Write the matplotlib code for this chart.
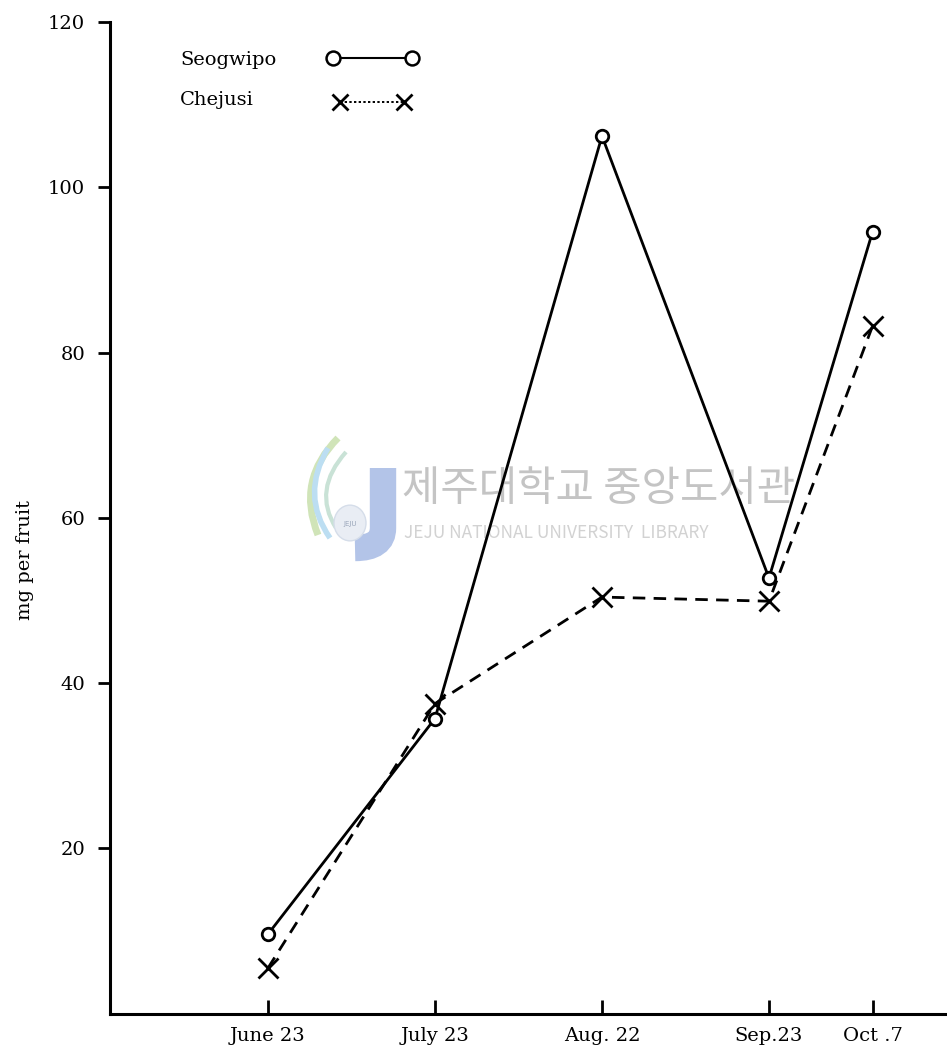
import matplotlib
matplotlib.use("Agg")
import matplotlib.pyplot as plt
from matplotlib.lines import Line2D
from matplotlib.path import Path
from matplotlib.patches import PathPatch, Circle

# Sampling dates and their positions along the time axis
dates = ["June 23", "July 23", "Aug. 22", "Sep.23", "Oct .7"]
date_pos = [0, 1, 2, 3, 3.62]

# mg per fruit at each sampling date
seogwipo = [9.6, 35.7, 106.2, 52.7, 94.6]
chejusi = [5.5, 37.5, 50.4, 49.9, 83.2]

y_ticks = [20, 40, 60, 80, 100, 120]

W, H = 947, 1057
fig = plt.figure(figsize=(W / 100, H / 100), dpi=100)
fig.patch.set_facecolor("white")


def px(x, y):
    """Pixel position (from top-left) to figure fraction."""
    return x / W, 1 - y / H


ax = fig.add_axes([110 / W, 43.5 / H, 835 / W, 991.5 / H])
ax.set_xlim(-0.946, 4.054)
ax.set_ylim(0, 120)

serif = "DejaVu Serif"

# Series
ax.plot(date_pos, seogwipo, color="black", lw=2.0, marker="o", ms=9,
        mfc="white", mec="black", mew=2.0, zorder=3)
ax.plot(date_pos, chejusi, color="black", lw=2.0, ls=(0, (4.5, 3.0)),
        marker="x", ms=14, mec="black", mew=2.0, zorder=3)

# Axes styling
for side in ("top", "right"):
    ax.spines[side].set_visible(False)
for side in ("left", "bottom"):
    ax.spines[side].set_linewidth(2.2)

ax.set_xticks(date_pos)
ax.set_xticklabels(dates, fontsize=14, family=serif)
ax.tick_params(axis="x", direction="in", length=10, width=2, pad=10)

ax.set_yticks(y_ticks)
ax.set_yticklabels([str(v) for v in y_ticks], fontsize=14, family=serif)
ax.tick_params(axis="y", direction="out", length=9, width=2, pad=9)

# Axis title, placed left of the tick labels
ax.text(-0.102, 0.457, "mg per fruit", transform=ax.transAxes, fontsize=14,
        family=serif, rotation=90, ha="center", va="center")

# Legend drawn as text with sample symbols
ax.text(0.084, 0.962, "Seogwipo", transform=ax.transAxes, fontsize=14,
        family=serif, va="center", ha="left")
ax.text(0.084, 0.921, "Chejusi", transform=ax.transAxes, fontsize=14,
        family=serif, va="center", ha="left")
ax.add_line(Line2D([0.267, 0.362], [0.9635, 0.9635], transform=ax.transAxes,
                   color="black", lw=1.5, marker="o", ms=10, mfc="white",
                   mec="black", mew=1.8, clip_on=False))
ax.add_line(Line2D([0.275, 0.352], [0.919, 0.919], transform=ax.transAxes,
                   color="black", lw=1.4, ls=(0, (1.2, 1.2)), marker="x",
                   ms=12, mec="black", mew=2.0, clip_on=False))

# Library watermark, drawn beneath the data lines
ax.text(*px(402, 490), "제주대학교 중앙도서관", transform=fig.transFigure,
        fontsize=30, family=["Noto Sans CJK KR", "DejaVu Sans"],
        color="#c4c4c4", va="center", ha="left", zorder=1)
ax.text(*px(404, 533), "JEJU NATIONAL UNIVERSITY  LIBRARY",
        transform=fig.transFigure, fontsize=12.5,
        family=["Noto Sans CJK KR", "DejaVu Sans"], color="#d2d2d2",
        va="center", ha="left", zorder=1)

# Logo: blue J with two swooshes and a small badge
j_pts = [px(383, 468), px(383, 528), px(383, 548), px(355, 548)]
j_path = Path(j_pts, [Path.MOVETO, Path.LINETO, Path.CURVE3, Path.CURVE3])
fig.add_artist(PathPatch(j_path, transform=fig.transFigure, fill=False,
                         ec="#b3c4e8", lw=19, capstyle="butt", zorder=1))
for pts, col, lw in [
    ([px(338, 438), px(296, 480), px(318, 535)], "#d0e4b8", 5),
    ([px(328, 448), px(300, 495), px(330, 538)], "#bcdef2", 4),
    ([px(346, 452), px(312, 490), px(336, 528)], "#c9e2d6", 3),
]:
    p = Path(pts, [Path.MOVETO, Path.CURVE3, Path.CURVE3])
    fig.add_artist(PathPatch(p, transform=fig.transFigure, fill=False,
                             ec=col, lw=lw, zorder=1))
fig.add_artist(Circle(px(350, 523), 16 / W, transform=fig.transFigure,
                      fc="#e9edf4", ec="#d5dde9", lw=1, zorder=1))
fig.text(*px(350, 524), "JEJU", fontsize=5, color="#9aa6ba",
         ha="center", va="center", family="DejaVu Sans")

fig.savefig("out.png", dpi=100, facecolor="white")
